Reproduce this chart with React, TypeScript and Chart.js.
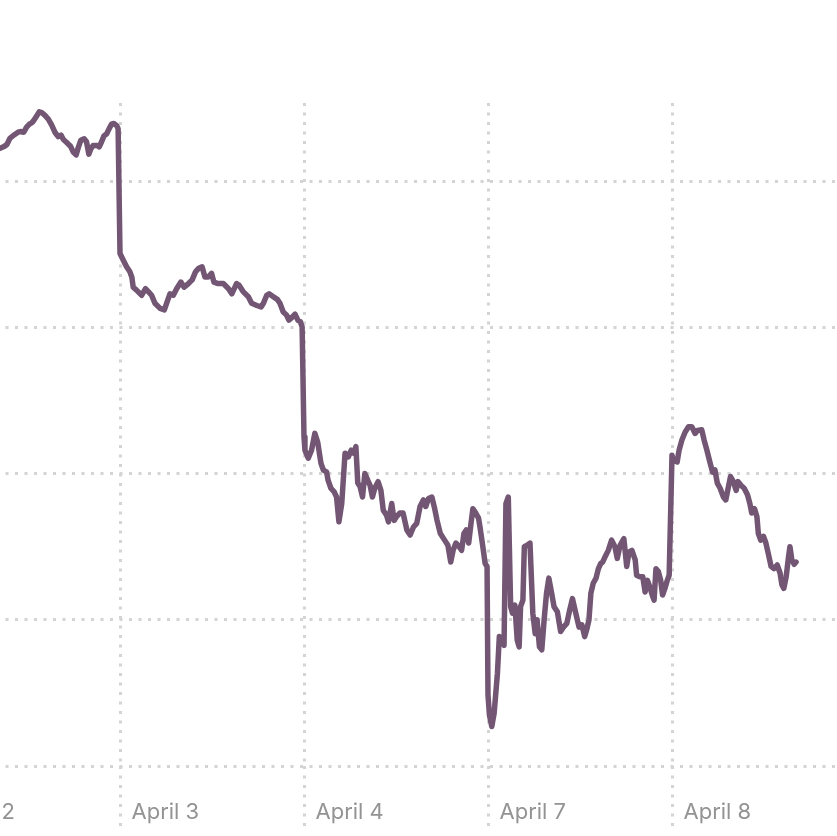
import React, { useEffect, useRef } from "react";
import { Chart, registerables } from "chart.js";

Chart.register(...registerables);

// Trading-day labels (x grid lines), one per session
const DAY_LABELS = ["April 2", "April 3", "April 4", "April 7", "April 8"];

// Horizontal grid values (index level)
const Y_GRID = [4800, 5000, 5200, 5400, 5600];

// Intraday points: [minutes after 9:30 open, index level]
const APRIL_2: [number, number][] = [
  [136, 5645], [143, 5647], [150, 5650], [157, 5659], [167, 5664], [174, 5667], [179, 5668],
  [186, 5667], [192, 5674], [198, 5678], [203, 5680], [206, 5682], [212, 5688], [219, 5695],
  [224, 5694], [231, 5690], [238, 5685], [245, 5677], [252, 5667], [259, 5661], [265, 5663],
  [270, 5657], [277, 5653], [280, 5651], [285, 5648], [291, 5640], [297, 5636], [302, 5647],
  [307, 5656], [314, 5658], [319, 5654], [324, 5637], [328, 5644], [333, 5649], [341, 5649],
  [346, 5647], [351, 5654], [356, 5662], [362, 5665], [367, 5672], [372, 5678], [377, 5679],
  [383, 5676], [386, 5672],
];

const APRIL_3: [number, number][] = [
  [0, 5501], [7, 5492], [14, 5483], [21, 5476], [25, 5469], [28, 5455], [35, 5451], [46, 5444],
  [54, 5453], [60, 5449], [67, 5444], [74, 5433], [85, 5426], [94, 5424], [101, 5437],
  [106, 5446], [113, 5444], [120, 5453], [129, 5462], [136, 5455], [145, 5460], [153, 5465],
  [160, 5476], [167, 5481], [174, 5483], [180, 5469], [187, 5469], [194, 5474], [199, 5462],
  [208, 5460], [219, 5460], [230, 5453], [237, 5446], [247, 5460], [252, 5458], [261, 5449],
  [272, 5442], [279, 5433], [290, 5430], [299, 5428], [304, 5433], [311, 5444], [316, 5446],
  [325, 5442], [334, 5438], [339, 5433], [346, 5421], [353, 5417], [358, 5410], [365, 5414],
  [371, 5418], [377, 5410], [382, 5408], [386, 5401],
];

const APRIL_4: [number, number][] = [
  [0, 5250], [2, 5232], [9, 5221], [16, 5232], [23, 5255], [29, 5243], [36, 5214], [41, 5205],
  [48, 5202], [51, 5191], [57, 5180], [64, 5175], [69, 5168], [74, 5134], [80, 5159],
  [87, 5228], [94, 5223], [100, 5232], [105, 5228], [110, 5237], [114, 5187], [119, 5182],
  [124, 5168], [129, 5200], [135, 5191], [140, 5184], [145, 5168], [150, 5180], [157, 5189],
  [163, 5177], [168, 5150], [175, 5143], [179, 5134], [186, 5159], [191, 5136], [196, 5141],
  [203, 5146], [210, 5146], [218, 5123], [225, 5116], [232, 5127], [239, 5132], [246, 5155],
  [253, 5164], [258, 5155], [264, 5166], [271, 5168], [277, 5152], [282, 5136], [289, 5118],
  [298, 5109], [305, 5102], [311, 5079], [316, 5095], [322, 5105], [329, 5100], [334, 5095],
  [339, 5118], [344, 5123], [349, 5105], [354, 5132], [358, 5152], [364, 5146], [370, 5139],
  [373, 5127], [378, 5105], [384, 5077], [388, 5073],
];

const APRIL_7: [number, number][] = [
  [0, 4897], [3, 4870], [8, 4854], [13, 4872], [20, 4927], [24, 4977], [31, 4972], [34, 4965],
  [38, 5159], [43, 5168], [48, 5018], [52, 5009], [57, 5020], [62, 4972], [66, 4963],
  [69, 5018], [74, 5027], [77, 5100], [83, 5102], [89, 5105], [95, 5009], [100, 4981],
  [104, 5000], [109, 4963], [114, 4959], [119, 5000], [124, 5036], [129, 5057], [135, 5036],
  [140, 5018], [147, 5011], [154, 4984], [160, 4990], [167, 4995], [173, 5013], [179, 5029],
  [186, 5009], [193, 4990], [199, 4993], [205, 4977], [209, 4986], [214, 5000], [218, 5036],
  [223, 5050], [229, 5057], [234, 5070], [239, 5077], [243, 5079], [248, 5086], [255, 5095],
  [262, 5109], [269, 5100], [274, 5084], [280, 5102], [288, 5111], [294, 5073], [299, 5093],
  [305, 5095], [312, 5082], [315, 5061], [321, 5059], [328, 5059], [333, 5038], [338, 5054],
  [343, 5045], [348, 5034], [352, 5027], [356, 5070], [361, 5066], [366, 5054], [370, 5034],
  [375, 5043], [380, 5054], [384, 5061],
];

const APRIL_8: [number, number][] = [
  [0, 5225], [3, 5218], [11, 5216], [15, 5232], [21, 5246], [28, 5257], [35, 5264], [42, 5264],
  [49, 5255], [54, 5259], [63, 5260], [68, 5246], [74, 5232], [81, 5214], [86, 5202],
  [91, 5205], [96, 5187], [102, 5180], [109, 5168], [114, 5164], [119, 5180], [124, 5196],
  [130, 5189], [136, 5177], [140, 5189], [146, 5184], [153, 5180], [160, 5171], [165, 5159],
  [169, 5146], [175, 5152], [180, 5141], [183, 5118], [188, 5109], [194, 5114], [199, 5105],
  [204, 5091], [210, 5073], [216, 5070], [223, 5075], [229, 5064], [233, 5048], [237, 5043],
  [242, 5059], [247, 5086], [250, 5100], [254, 5082], [259, 5076], [263, 5079],
];

const SESSIONS = [APRIL_2, APRIL_3, APRIL_4, APRIL_7, APRIL_8];
const SESSION_MINUTES = 390;

const LINE_COLOR = "#735674";
const GRID_COLOR = "#d4d4d4";
const LABEL_COLOR = "#939393";

export default function App() {
  const canvasRef = useRef<HTMLCanvasElement | null>(null);

  useEffect(() => {
    document.body.style.margin = "0";
    document.body.style.overflow = "hidden";
    const canvas = canvasRef.current;
    if (!canvas) return;

    const points: { x: number; y: number }[] = [];
    SESSIONS.forEach((session, i) => {
      session.forEach(([m, v]) => points.push({ x: i + m / SESSION_MINUTES, y: v }));
    });

    const chart = new Chart(canvas, {
      type: "line",
      data: {
        datasets: [
          {
            data: points,
            borderColor: LINE_COLOR,
            borderWidth: 5.5,
            borderJoinStyle: "round",
            borderCapStyle: "round",
            pointRadius: 0,
            tension: 0,
            fill: false,
          },
        ],
      },
      options: {
        animation: false,
        responsive: false,
        devicePixelRatio: 1,
        layout: { padding: { top: 103, left: 0, right: 0, bottom: 0 } },
        plugins: { legend: { display: false }, tooltip: { enabled: false } },
        scales: {
          x: {
            type: "linear",
            min: -0.5,
            max: 5.5,
            afterBuildTicks: (scale: any) => {
              scale.ticks = DAY_LABELS.map((_, i) => ({ value: i }));
            },
            afterFit: (scale: any) => {
              scale.height = 70;
            },
            border: { display: false, dash: [3, 6.5] },
            grid: {
              color: GRID_COLOR,
              lineWidth: 3,
              drawTicks: true,
              tickLength: 64,
              tickColor: GRID_COLOR,
              tickWidth: 3,
              tickBorderDash: [3, 6.5],
            },
            ticks: {
              autoSkip: false,
              maxRotation: 0,
              minRotation: 0,
              align: "start",
              labelOffset: 11.5,
              padding: -31,
              color: LABEL_COLOR,
              font: { family: "Inter, 'Liberation Sans', sans-serif", size: 22 },
              callback: (value: any) => DAY_LABELS[Math.round(Number(value))] ?? "",
            },
          },
          y: {
            type: "linear",
            min: 4800,
            max: 5707,
            afterBuildTicks: (scale: any) => {
              scale.ticks = Y_GRID.map((v) => ({ value: v }));
            },
            afterFit: (scale: any) => {
              scale.width = 0;
            },
            border: { display: false, dash: [3, 6.5] },
            grid: { color: GRID_COLOR, lineWidth: 3, drawTicks: false },
            ticks: { display: false },
          },
        },
      },
    } as any);

    return () => chart.destroy();
  }, []);

  return (
    <div style={{ position: "fixed", left: -156, top: 0, width: 1104, height: 836 }}>
      <canvas
        ref={canvasRef}
        width={1104}
        height={836}
        style={{ display: "block", width: 1104, height: 836 }}
      />
    </div>
  );
}
